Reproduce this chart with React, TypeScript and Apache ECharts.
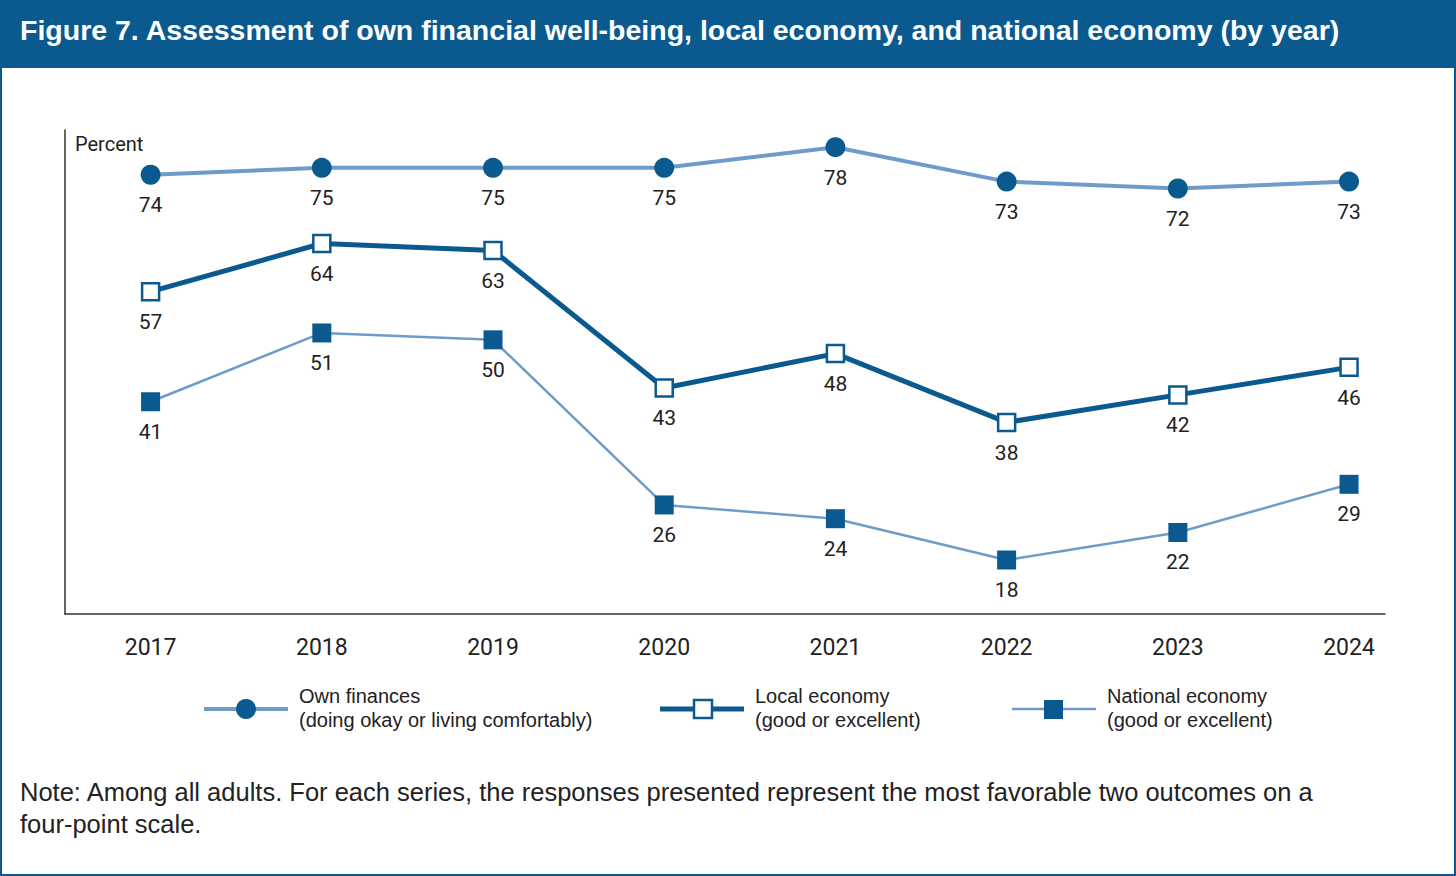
import React, { useEffect, useRef } from 'react';
import * as echarts from 'echarts';

const years = [2017, 2018, 2019, 2020, 2021, 2022, 2023, 2024];
const ownFinances = [74, 75, 75, 75, 78, 73, 72, 73];
const localEconomy = [57, 64, 63, 43, 48, 38, 42, 46];
const nationalEconomy = [41, 51, 50, 26, 24, 18, 22, 29];

const DARK = '#0b5a8f';
const LIGHT = '#6f9bc8';
const NARROW = '"Liberation Sans Narrow", "Roboto", sans-serif';
const SANS = '"Liberation Sans", Arial, sans-serif';

const App: React.FC = () => {
  const chartRef = useRef<HTMLDivElement | null>(null);

  useEffect(() => {
    if (!chartRef.current) return;
    const chart = echarts.init(chartRef.current, null, { renderer: 'svg' });

    const pts = (vals: number[]) => vals.map((v, i) => [years[i], v]);
    const label = { show: true, position: 'bottom', distance: 10, fontSize: 21, color: '#222', fontFamily: NARROW };

    const legendItem = (x: number, lineW: number, lineColor: string, marker: any, t1: string, t2: string) => [
      { type: 'line', shape: { x1: x, y1: 709, x2: x + 84, y2: 709 }, style: { stroke: lineColor, lineWidth: lineW } },
      { ...marker },
      { type: 'text', x: x + 95, y: 684, style: { text: t1 + '\n' + t2, fontSize: 20, lineHeight: 24, fill: '#222', font: `20px ${NARROW}` } },
    ];

    const option = {
      animation: false,
      backgroundColor: '#fff',
      grid: { left: 65, right: 71, top: 130, bottom: 262 },
      xAxis: {
        type: 'value', min: 2016.5, max: 2024.21,
        axisLine: { show: true, lineStyle: { color: '#333', width: 1.5 } },
        axisTick: { show: false },
        splitLine: { show: false },
        axisLabel: { customValues: years, fontSize: 23, color: '#222', fontFamily: NARROW, margin: 22, formatter: (v: number) => String(v) },
      },
      yAxis: {
        type: 'value', min: 10.15, max: 80.5,
        axisLine: { show: true, lineStyle: { color: '#333', width: 1.5 } },
        axisTick: { show: false }, axisLabel: { show: false }, splitLine: { show: false },
      },
      series: [
        {
          type: 'line', data: pts(ownFinances), symbol: 'circle', symbolSize: 20,
          lineStyle: { color: LIGHT, width: 4 }, itemStyle: { color: DARK }, label,
        },
        {
          type: 'line', data: pts(localEconomy), symbol: 'rect', symbolSize: 17,
          lineStyle: { color: DARK, width: 5 }, itemStyle: { color: '#fff', borderColor: DARK, borderWidth: 2.5 }, label,
        },
        {
          type: 'line', data: pts(nationalEconomy), symbol: 'rect', symbolSize: 19,
          lineStyle: { color: LIGHT, width: 2.5 }, itemStyle: { color: DARK }, label,
        },
      ],
      graphic: [
        { type: 'rect', shape: { x: 1, y: 1, width: 1454, height: 874 }, style: { fill: 'none', stroke: DARK, lineWidth: 2 } },
        { type: 'rect', shape: { x: 0, y: 0, width: 1456, height: 68 }, style: { fill: DARK } },
        { type: 'text', x: 20, y: 15, style: { text: 'Figure 7. Assessment of own financial well-being, local economy, and national economy (by year)', font: `bold 28.5px ${SANS}`, fill: '#fff' } },
        { type: 'text', x: 75, y: 134, style: { text: 'Percent', font: `20px ${NARROW}`, fill: '#222' } },
        ...legendItem(204, 4, LIGHT, { type: 'circle', shape: { cx: 246, cy: 709, r: 10 }, style: { fill: DARK } },
          'Own finances', '(doing okay or living comfortably)'),
        ...legendItem(660, 5, DARK, { type: 'rect', shape: { x: 694, y: 700, width: 18, height: 18 }, style: { fill: '#fff', stroke: DARK, lineWidth: 2.5 } },
          'Local economy', '(good or excellent)'),
        ...legendItem(1012, 2.5, LIGHT, { type: 'rect', shape: { x: 1044, y: 700, width: 19, height: 19 }, style: { fill: DARK } },
          'National economy', '(good or excellent)'),
        { type: 'text', x: 20, y: 776, style: { text: 'Note: Among all adults. For each series, the responses presented represent the most favorable two outcomes on a\nfour-point scale.', font: `25.5px ${SANS}`, lineHeight: 32, fill: '#222' } },
      ],
    };

    chart.setOption(option as any);
    return () => chart.dispose();
  }, []);

  return <div ref={chartRef} style={{ position: 'absolute', left: 0, top: 0, width: 1456, height: 876 }} />;
};

export default App;
